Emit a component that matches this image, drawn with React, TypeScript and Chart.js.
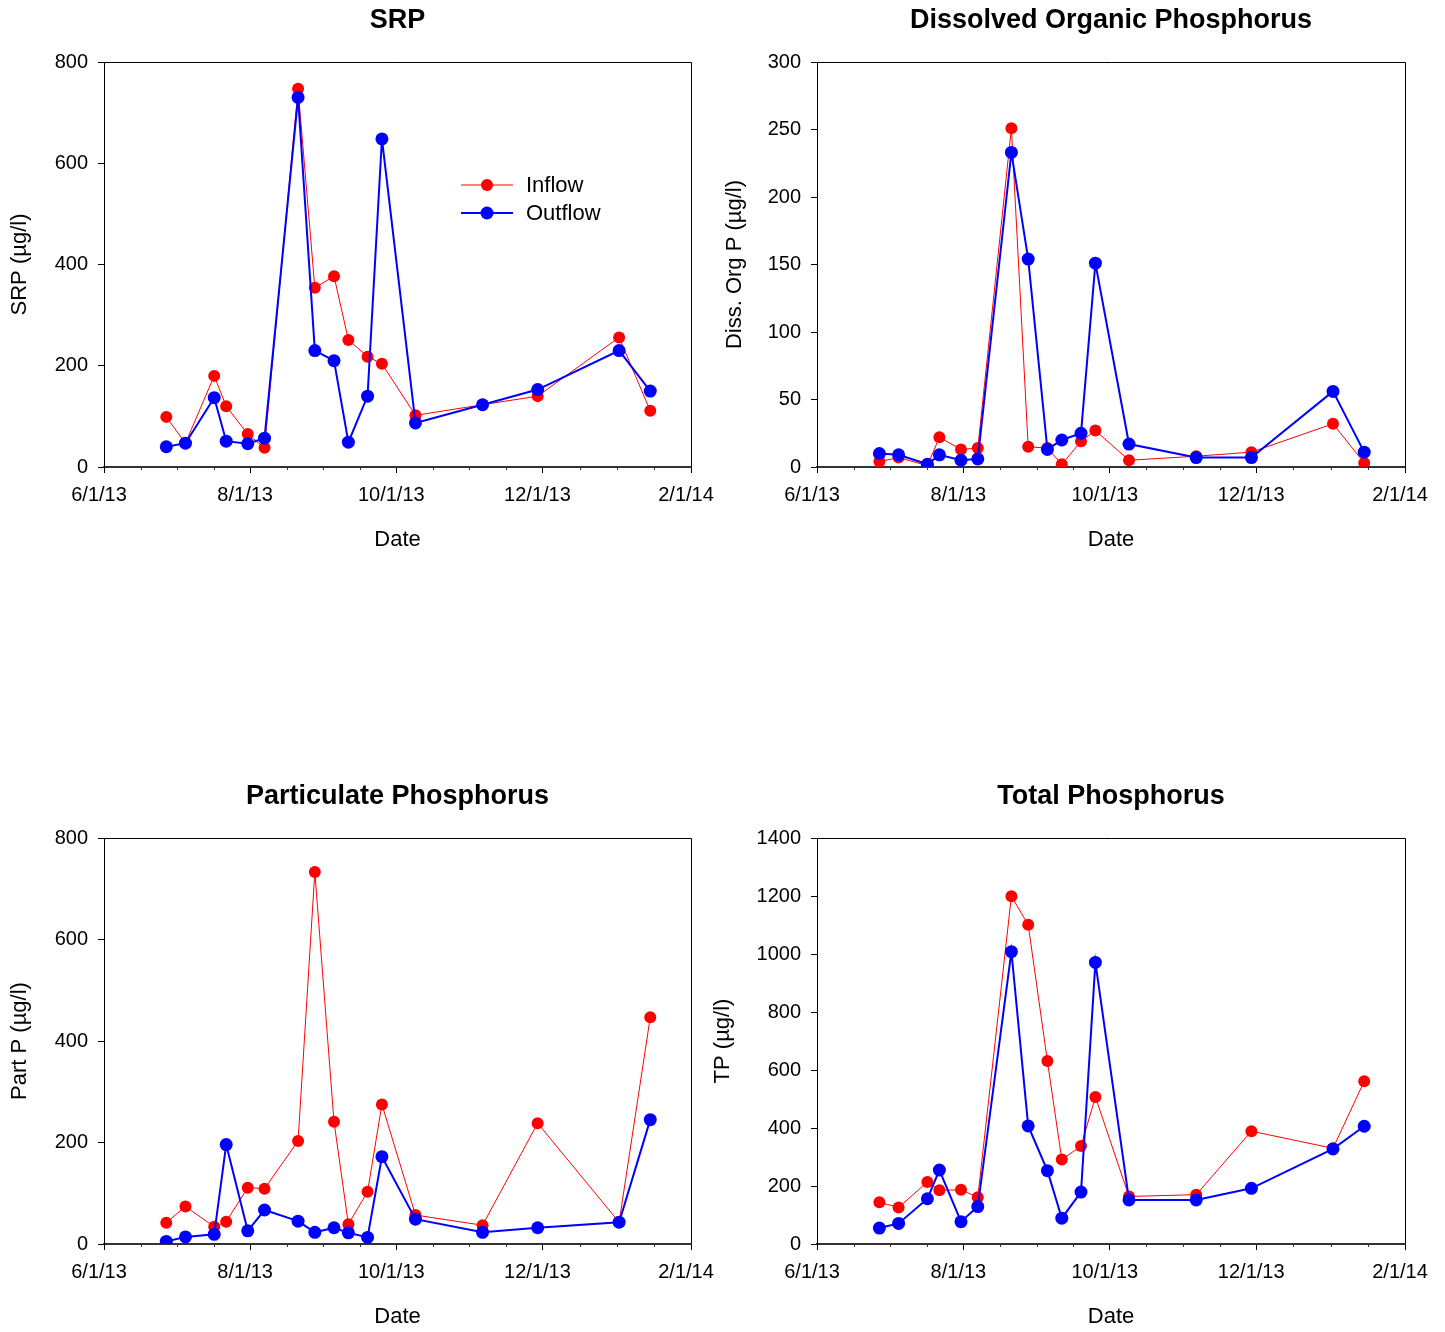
import React, { useEffect, useRef } from 'react';
import { Chart, registerables } from 'chart.js';

Chart.register(...registerables);

// ---------------- DATA ----------------
const sampleDates = [
  '2013-06-27', '2013-07-05', '2013-07-17', '2013-07-22', '2013-07-31', '2013-08-07',
  '2013-08-21', '2013-08-28', '2013-09-05', '2013-09-11', '2013-09-19', '2013-09-25',
  '2013-10-09', '2013-11-06', '2013-11-29', '2014-01-02', '2014-01-15',
];
const axisTickDates = ['2013-06-01', '2013-08-01', '2013-10-01', '2013-12-01', '2014-02-01'];
const axisTickLabels = ['6/1/13', '8/1/13', '10/1/13', '12/1/13', '2/1/14'];

const srpInflow = [99, 47, 180, 120, 65, 38, 747, 354, 377, 251, 218, 204, 102, 123, 140, 256, 111];
const srpOutflow = [40, 47, 137, 51, 46, 57, 730, 230, 210, 49, 140, 648, 87, 123, 153, 230, 150];
const dopInflow = [4, 7, 1, 22, 13, 14, 251, 15, 14, 2, 19, 27, 5, 8, 11, 32, 3];
const dopOutflow = [10, 9, 2, 9, 5, 6, 233, 154, 13, 20, 25, 151, 17, 7, 7, 56, 11];
const ppInflow = [42, 74, 34, 44, 111, 109, 203, 733, 241, 39, 103, 275, 57, 37, 238, 43, 447];
const ppOutflow = [5, 14, 19, 196, 26, 67, 45, 23, 32, 22, 13, 172, 49, 23, 32, 43, 245];
const tpInflow = [144, 126, 214, 185, 187, 161, 1199, 1101, 631, 291, 338, 507, 164, 170, 389, 330, 561];
const tpOutflow = [55, 71, 156, 255, 77, 129, 1008, 407, 253, 89, 179, 971, 152, 152, 192, 328, 406];

const srpYTicks = [0, 200, 400, 600, 800];
const dopYTicks = [0, 50, 100, 150, 200, 250, 300];
const ppYTicks = [0, 200, 400, 600, 800];
const tpYTicks = [0, 200, 400, 600, 800, 1000, 1200, 1400];

const seriesLabels = ['Inflow', 'Outflow'];

// ---------------- HELPERS ----------------
const FONT = '"Liberation Sans", Arial, Helvetica, sans-serif';
const origin = Date.UTC(2013, 5, 1);
const toDays = (s: string) => {
  const [y, m, d] = s.split('-').map(Number);
  return Math.round((Date.UTC(y, m - 1, d) - origin) / 86400000);
};
const sampleDays = sampleDates.map(toDays);
const tickDays = axisTickDates.map(toDays);

const RED = '#ff0000';
const BLUE = '#0000ff';

type Area = { left: number; top: number; right: number; bottom: number };
type PanelProps = {
  x: number; y: number; w: number; h: number;
  area: Area;
  title: string;
  yTitle: string;
  yTicks: number[];
  inflow: number[];
  outflow: number[];
  yTitleCenter: number;
  legend?: boolean;
};

const framePlugin = {
  id: 'frame',
  afterDraw(chart: any) {
    const { ctx, chartArea } = chart;
    const xs = chart.scales.x;
    ctx.save();
    ctx.strokeStyle = '#000';
    ctx.lineWidth = 1;
    ctx.beginPath();
    ctx.moveTo(chartArea.left, chartArea.top + 0.5);
    ctx.lineTo(chartArea.right + 0.5, chartArea.top + 0.5);
    ctx.lineTo(chartArea.right + 0.5, chartArea.bottom);
    ctx.stroke();
    // minor ticks on x axis
    ctx.strokeStyle = '#333';
    for (let i = 0; i < tickDays.length - 1; i++) {
      const a = tickDays[i];
      const b = tickDays[i + 1];
      for (let k = 1; k < 4; k++) {
        const px = Math.round(xs.getPixelForValue(a + ((b - a) * k) / 4)) + 0.5;
        ctx.beginPath();
        ctx.moveTo(px, chartArea.bottom - 1);
        ctx.lineTo(px, chartArea.bottom + 3);
        ctx.stroke();
      }
    }
    ctx.restore();
  },
};

const legendPlugin = {
  id: 'customLegend',
  afterDraw(chart: any) {
    const opts = chart.options.plugins.customLegend;
    if (!opts || !opts.show) return;
    const { ctx } = chart;
    const items = [
      { label: seriesLabels[0], color: RED, lw: 1, r: 6, y: 185 },
      { label: seriesLabels[1], color: BLUE, lw: 2, r: 6.5, y: 213 },
    ];
    ctx.save();
    for (const it of items) {
      ctx.strokeStyle = it.color;
      ctx.lineWidth = it.lw;
      ctx.beginPath();
      ctx.moveTo(461, it.y);
      ctx.lineTo(513, it.y);
      ctx.stroke();
      ctx.fillStyle = it.color;
      ctx.beginPath();
      ctx.arc(487, it.y, it.r, 0, Math.PI * 2);
      ctx.fill();
      ctx.fillStyle = '#000';
      ctx.font = `22px ${FONT}`;
      ctx.textBaseline = 'middle';
      ctx.textAlign = 'left';
      ctx.fillText(it.label, 526, it.y + 1);
    }
    ctx.restore();
  },
};

function Panel(p: PanelProps) {
  const ref = useRef<HTMLCanvasElement>(null);
  useEffect(() => {
    if (!ref.current) return;
    const titleSize = 27;
    const titleLH = titleSize * 1.2;
    const titleTop = 21 - titleLH / 2;
    const axisTitleSize = 22;
    const axisLH = axisTitleSize * 1.2;
    const xAxisH = p.h - p.area.bottom;
    const chart = new Chart(ref.current, {
      type: 'line',
      data: {
        datasets: [
          {
            label: seriesLabels[0],
            data: sampleDays.map((d, i) => ({ x: d, y: p.inflow[i] })),
            borderColor: RED,
            backgroundColor: RED,
            pointBackgroundColor: RED,
            pointBorderColor: RED,
            pointBorderWidth: 0,
            borderWidth: 1,
            pointRadius: 6,
            tension: 0,
            order: 2,
          },
          {
            label: seriesLabels[1],
            data: sampleDays.map((d, i) => ({ x: d, y: p.outflow[i] })),
            borderColor: BLUE,
            backgroundColor: BLUE,
            pointBackgroundColor: BLUE,
            pointBorderColor: BLUE,
            pointBorderWidth: 0,
            borderWidth: 2,
            pointRadius: 6.5,
            tension: 0,
            order: 1,
          },
        ],
      },
      options: {
        animation: false,
        responsive: false,
        maintainAspectRatio: false,
        devicePixelRatio: 1,
        layout: { padding: { left: 0, top: 0, right: p.w - p.area.right, bottom: 0 } },
        plugins: {
          legend: { display: false },
          tooltip: { enabled: false },
          title: {
            display: true,
            text: p.title,
            fullSize: false,
            color: '#000',
            font: { family: FONT, size: titleSize, weight: 'bold' },
            padding: { top: titleTop, bottom: p.area.top - titleTop - titleLH },
          },
          customLegend: { show: !!p.legend },
        } as any,
        scales: {
          x: {
            type: 'linear',
            min: tickDays[0],
            max: tickDays[tickDays.length - 1],
            afterBuildTicks: (s: any) => {
              s.ticks = tickDays.map((v) => ({ value: v }));
            },
            afterFit: (s: any) => {
              s.height = xAxisH;
            },
            ticks: {
              autoSkip: false,
              maxRotation: 0,
              color: '#000',
              padding: 10,
              labelOffset: -5,
              font: { family: FONT, size: 20 },
              callback: (_v: any, i: number) => axisTickLabels[i],
            },
            grid: { drawOnChartArea: false, drawTicks: true, tickLength: 6, tickColor: '#000', tickWidth: 1 },
            border: { display: true, color: '#333', width: 2 },
            title: {
              display: true,
              text: 'Date',
              color: '#000',
              font: { family: FONT, size: axisTitleSize },
              padding: { top: 0, bottom: xAxisH - 73 - axisLH / 2 },
            },
          },
          y: {
            type: 'linear',
            min: p.yTicks[0],
            max: p.yTicks[p.yTicks.length - 1],
            afterBuildTicks: (s: any) => {
              s.ticks = p.yTicks.map((v) => ({ value: v }));
            },
            afterFit: (s: any) => {
              s.width = p.area.left;
            },
            ticks: {
              color: '#000',
              padding: 10,
              font: { family: FONT, size: 20 },
              callback: (v: any) => String(v),
            },
            grid: { drawOnChartArea: false, drawTicks: true, tickLength: 6, tickColor: '#000', tickWidth: 1 },
            border: { display: true, color: '#000', width: 1 },
            title: {
              display: true,
              text: p.yTitle,
              color: '#000',
              font: { family: FONT, size: axisTitleSize },
              padding: { top: p.yTitleCenter - axisLH / 2, bottom: 0 },
            },
          },
        },
      } as any,
      plugins: [framePlugin, legendPlugin],
    });
    return () => chart.destroy();
  }, []);
  return (
    <canvas
      ref={ref}
      width={p.w}
      height={p.h}
      style={{ position: 'absolute', left: p.x, top: p.y, width: p.w, height: p.h }}
    />
  );
}

export default function App() {
  return (
    <div style={{ position: 'absolute', left: 0, top: 0, width: 1445, height: 1332, background: '#fff' }}>
      <Panel
        x={0} y={0} w={735} h={560}
        area={{ left: 104, top: 62, right: 691, bottom: 467 }}
        title="SRP" yTitle="SRP (µg/l)" yTicks={srpYTicks}
        inflow={srpInflow} outflow={srpOutflow} yTitleCenter={20} legend
      />
      <Panel
        x={700} y={0} w={745} h={560}
        area={{ left: 117, top: 62, right: 705, bottom: 467 }}
        title="Dissolved Organic Phosphorus" yTitle="Diss. Org P (µg/l)" yTicks={dopYTicks}
        inflow={dopInflow} outflow={dopOutflow} yTitleCenter={35}
      />
      <Panel
        x={0} y={776} w={735} h={556}
        area={{ left: 104, top: 62, right: 691, bottom: 468 }}
        title="Particulate Phosphorus" yTitle="Part P (µg/l)" yTicks={ppYTicks}
        inflow={ppInflow} outflow={ppOutflow} yTitleCenter={20}
      />
      <Panel
        x={700} y={776} w={745} h={556}
        area={{ left: 117, top: 62, right: 705, bottom: 468 }}
        title="Total Phosphorus" yTitle="TP (µg/l)" yTicks={tpYTicks}
        inflow={tpInflow} outflow={tpOutflow} yTitleCenter={23}
      />
    </div>
  );
}
